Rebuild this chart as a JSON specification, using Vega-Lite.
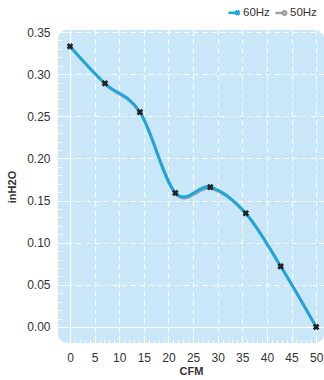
{
  "$schema": "https://vega.github.io/schema/vega-lite/v6.json",
  "autosize": "none",
  "width": 266,
  "height": 313,
  "padding": {"left": 58, "top": 30, "right": 0, "bottom": 37},
  "background": "white",
  "config": {
    "font": "Liberation Sans",
    "view": {"fill": "#c9e7f9", "stroke": null, "cornerRadius": 9}
  },
  "data": {
    "values": [
      {"cfm": 0, "p": 0.333, "s": "60Hz"},
      {"cfm": 7.1, "p": 0.289, "s": "60Hz"},
      {"cfm": 14.2, "p": 0.255, "s": "60Hz"},
      {"cfm": 21.4, "p": 0.159, "s": "60Hz"},
      {"cfm": 28.5, "p": 0.166, "s": "60Hz"},
      {"cfm": 35.7, "p": 0.135, "s": "60Hz"},
      {"cfm": 42.8, "p": 0.072, "s": "60Hz"},
      {"cfm": 50, "p": 0.0, "s": "60Hz"}
    ]
  },
  "encoding": {
    "x": {
      "field": "cfm", "type": "quantitative",
      "scale": {"domain": [-2.44, 51.6], "nice": false, "zero": false},
      "axis": {
        "title": "CFM", "titleFontSize": 11, "titleFontWeight": "bold", "titleColor": "#333", "titlePadding": 2,
        "values": [0,1,2,3,4,5,6,7,8,9,10,11,12,13,14,15,16,17,18,19,20,21,22,23,24,25,26,27,28,29,30,31,32,33,34,35,36,37,38,39,40,41,42,43,44,45,46,47,48,49,50],
        "labelExpr": "datum.value % 5 === 0 ? datum.label : ''",
        "labelFontSize": 12, "labelColor": "#333", "labelPadding": 17,
        "domain": false,
        "tickColor": "white",
        "tickSize": {"condition": {"test": "datum.value % 5 === 0", "value": -8}, "value": -4},
        "grid": true, "gridColor": "white",
        "gridOpacity": {"condition": {"test": "datum.value % 5 === 0", "value": 1}, "value": 0},
        "gridDash": {"condition": {"test": "datum.value === 0", "value": []}, "value": [5, 4]},
        "gridWidth": 1.2
      }
    },
    "y": {
      "field": "p", "type": "quantitative",
      "scale": {"domain": [-0.019, 0.3524], "nice": false, "zero": false},
      "axis": {
        "title": "inH2O", "titleFontSize": 11, "titleFontWeight": "bold", "titleColor": "#333", "titlePadding": 9,
        "values": [0,0.01,0.02,0.03,0.04,0.05,0.06,0.07,0.08,0.09,0.1,0.11,0.12,0.13,0.14,0.15,0.16,0.17,0.18,0.19,0.2,0.21,0.22,0.23,0.24,0.25,0.26,0.27,0.28,0.29,0.3,0.31,0.32,0.33,0.34,0.35],
        "labelExpr": "abs(datum.value*100 % 5) < 0.001 || abs(datum.value*100 % 5 - 5) < 0.001 ? format(datum.value, '.2f') : ''",
        "labelFontSize": 12, "labelColor": "#333", "labelPadding": 16,
        "domain": false,
        "tickColor": "white",
        "tickSize": {"condition": {"test": "abs(datum.value*100 % 5) < 0.001 || abs(datum.value*100 % 5 - 5) < 0.001", "value": -8}, "value": -4},
        "grid": true, "gridColor": "white",
        "gridOpacity": {"condition": {"test": "abs(datum.value*100 % 5) < 0.001 || abs(datum.value*100 % 5 - 5) < 0.001", "value": 1}, "value": 0},
        "gridDash": {"condition": {"test": "datum.value === 0", "value": []}, "value": [5, 4]},
        "gridWidth": 1.2
      }
    }
  },
  "layer": [
    {
      "mark": {"type": "line", "interpolate": "cardinal", "stroke": "#555", "strokeWidth": 3, "opacity": 0.45, "xOffset": 0.8, "yOffset": 1.2},
      "encoding": {}
    },
    {
      "mark": {"type": "line", "interpolate": "cardinal", "strokeWidth": 2.8},
      "encoding": {
        "color": {
          "field": "s", "type": "nominal",
          "scale": {"domain": ["60Hz", "50Hz"], "range": ["#1ba6dc", "#a0a0a0"]},
          "legend": {
            "title": null, "orient": "none", "legendX": 170, "legendY": -24, "direction": "horizontal",
            "labelFontSize": 11.5, "labelColor": "#333", "labelOffset": 2, "columnPadding": 0,
            "symbolSize": 100, "symbolStrokeWidth": 2.5,
            "encode": {
              "symbols": {
                "update": {
                  "shape": {"signal": "datum.value === '60Hz' ? 'M-1.2,0H0.6M0.2,-0.4L1,0.4M0.2,0.4L1,-0.4' : 'M-1.2,0H0.4M0.6,-0.35A0.35,0.35 0 1 0 0.6,0.35A0.35,0.35 0 1 0 0.6,-0.35Z'"}
                }
              }
            }
          }
        }
      }
    },
    {
      "mark": {"type": "point", "shape": "cross", "angle": 45, "filled": true, "color": "#222", "size": 45, "opacity": 1},
      "encoding": {}
    }
  ]
}
